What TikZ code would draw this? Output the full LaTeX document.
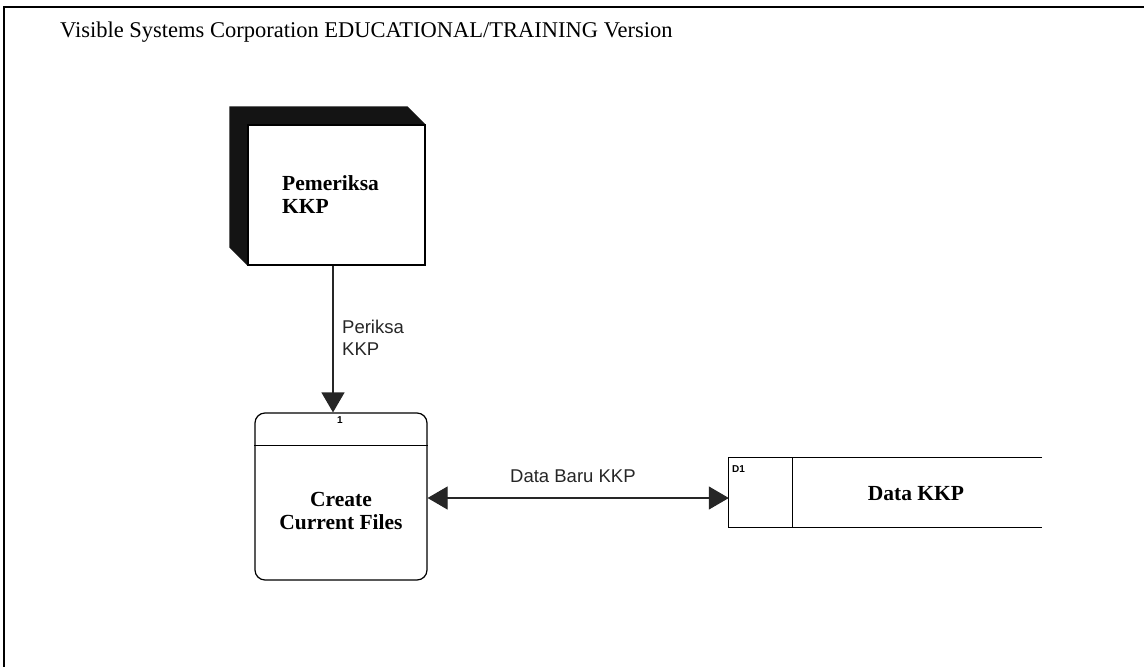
\documentclass[tikz,border=0pt]{standalone}
\usepackage{fontspec}
\setmainfont{Liberation Serif}
\newfontfamily\flowfont{Liberation Sans}
\usetikzlibrary{arrows.meta,calc}

\begin{document}
\begin{tikzpicture}[x=1pt,y=-1pt,
  box/.style={draw=black, line width=1.2pt, fill=white, inner sep=0pt},
  boxtext/.style={font=\fontsize{21.5}{23}\selectfont\bfseries, inner sep=0pt},
  flowtext/.style={font=\flowfont\fontsize{18.5}{22}\selectfont, text=black!85, inner sep=0pt},
  smalltag/.style={font=\flowfont\fontsize{10}{12}\selectfont\bfseries, inner sep=0pt},
  flow/.style={line width=1.2pt, draw=black!85},
  tip/.tip={Triangle[length=20pt,width=23pt]}
]
\useasboundingbox (0,0) rectangle (1144,667);

% page frame and header
\draw[line width=1.8pt] (4,667) -- (4,7) -- (1144,7);
\node[font=\fontsize{22.5}{24}\selectfont, inner sep=0pt, anchor=base west]
  (title) at (60,37) {Visible Systems Corporation EDUCATIONAL/TRAINING Version};

% external entity with its dark 3-D edge
\node[box, minimum width=177pt, minimum height=140pt] (ent) at (336.5,195) {};
\fill[black!92] ($(ent.north west)+(-18,-18)$) -- ($(ent.north east)+(-18,-18)$)
  -- (ent.north east) -- (ent.north west) -- (ent.south west)
  -- ($(ent.south west)+(-18,-18)$) -- cycle;
\draw[line width=1.2pt] (ent.north west) rectangle (ent.south east);
\node[boxtext, align=left, anchor=north west] (entlabel) at (282,175.3) {Pemeriksa\\KKP};

% process
\node[box, rounded corners=10pt, minimum width=172pt, minimum height=167pt] (proc) at (341,496.5) {};
\draw[line width=1.2pt] ($(proc.north west)+(0,33)$) -- ($(proc.north east)+(0,33)$);
\node[smalltag, anchor=north] (procno) at (340,416) {1};
\node[boxtext, align=center, anchor=north] (proclabel) at (341,491.8) {Create\\Current Files};

% data store, open on the right
\node[minimum width=313pt, minimum height=69pt, inner sep=0pt] (store) at (885.5,492.5) {};
\draw[line width=1.2pt] (store.north east) -- (store.north west) -- (store.south west) -- (store.south east);
\draw[line width=1.2pt] ($(store.north west)+(64,0)$) -- ($(store.south west)+(64,0)$);
\node[smalltag, anchor=north west] (storeid) at (732,465) {D1};
\node[boxtext, anchor=base] (storelabel) at (916,500) {Data KKP};

% data flows
\coordinate (entout) at ($(ent.south)+(-3.5,0)$);
\draw[flow, -tip] (entout) -- (entout |- proc.north);
\node[flowtext, align=left, anchor=north west] (flow1) at (342,319.8) {Periksa\\KKP};

\coordinate (procout) at ($(proc.east)+(0,1.5)$);
\draw[flow, tip-tip] (procout) -- (procout -| store.west);
\node[flowtext, anchor=base west] (flow2) at (510,482) {Data Baru KKP};
\end{tikzpicture}
\end{document}
